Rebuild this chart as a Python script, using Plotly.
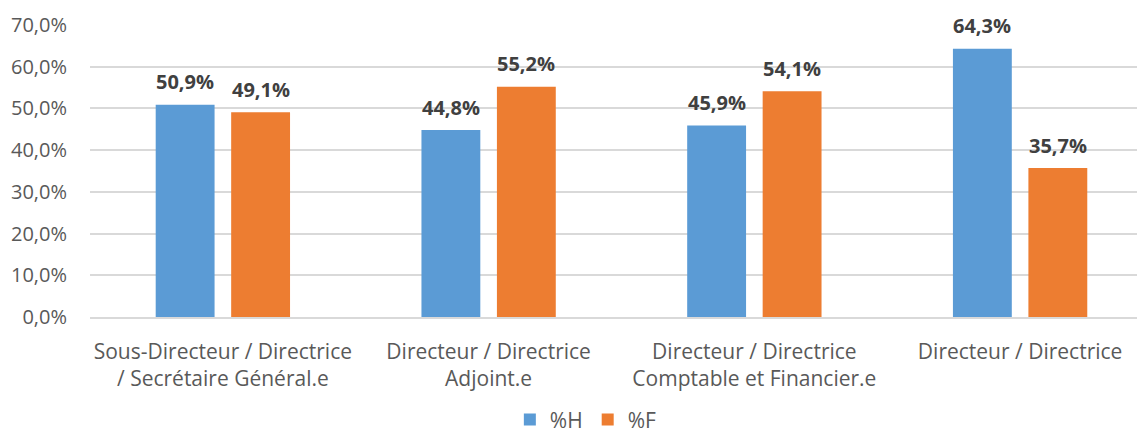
import plotly.graph_objects as go

categories = ["Sous-Directeur / Directrice<br>/ Secrétaire Général.e",
              "Directeur / Directrice<br>Adjoint.e",
              "Directeur / Directrice<br>Comptable et Financier.e",
              "Directeur / Directrice"]
pct_h = [0.509, 0.448, 0.459, 0.643]
pct_f = [0.491, 0.552, 0.541, 0.357]
series_names = ["%H", "%F"]
tick_vals = [0, 0.1, 0.2, 0.3, 0.4, 0.5, 0.6, 0.7]

font_family = "Open Sans, Liberation Sans, sans-serif"
colors = ["#5B9BD5", "#ED7D31"]

fig = go.Figure()
for name, vals, color in [(series_names[0], pct_h, colors[0]), (series_names[1], pct_f, colors[1])]:
    fig.add_trace(go.Bar(x=categories, y=vals, name=name, marker_color=color,
                         marker_line_width=0))

annotations = []
for vals, shift in [(pct_h, -37.75), (pct_f, 37.75)]:
    for c, v in zip(categories, vals):
        annotations.append(dict(
            x=c, y=v, xref="x", yref="y", text=f"{v*100:.1f}%".replace(".", ","),
            showarrow=False, xshift=shift, yshift=23, yanchor="middle",
            font=dict(family=font_family, size=20, color="#404040", weight="bold"),
        ))

fig.update_layout(
    width=1137, height=429,
    margin=dict(l=82, r=0, t=17, b=120, autoexpand=False),
    paper_bgcolor="white", plot_bgcolor="white",
    separators=", ",
    barmode="group", bargap=0.432, bargroupgap=0.22,
    font=dict(family=font_family, color="#595959"),
    showlegend=True,
    legend=dict(orientation="h", x=0.47, xanchor="center", y=-0.352, yanchor="middle",
                font=dict(size=21, color="#595959"), itemwidth=30, tracegroupgap=0),
    annotations=annotations,
)
fig.update_yaxes(range=[0, 0.7], tickvals=tick_vals, tickformat=".1%",
                 showgrid=True, gridcolor="#D9D9D9", gridwidth=1.5,
                 zeroline=False, showline=False, automargin=False,
                 tickfont=dict(size=20, color="#595959"), ticks="",
                 ticklabelstandoff=22)
fig.update_xaxes(range=[-0.5, 3.47], showline=True, linecolor="#D9D9D9", linewidth=1.5,
                 automargin=False, ticklabelstandoff=15,
                 tickfont=dict(size=21, color="#595959"), ticks="")

fig.write_html("out.html")
